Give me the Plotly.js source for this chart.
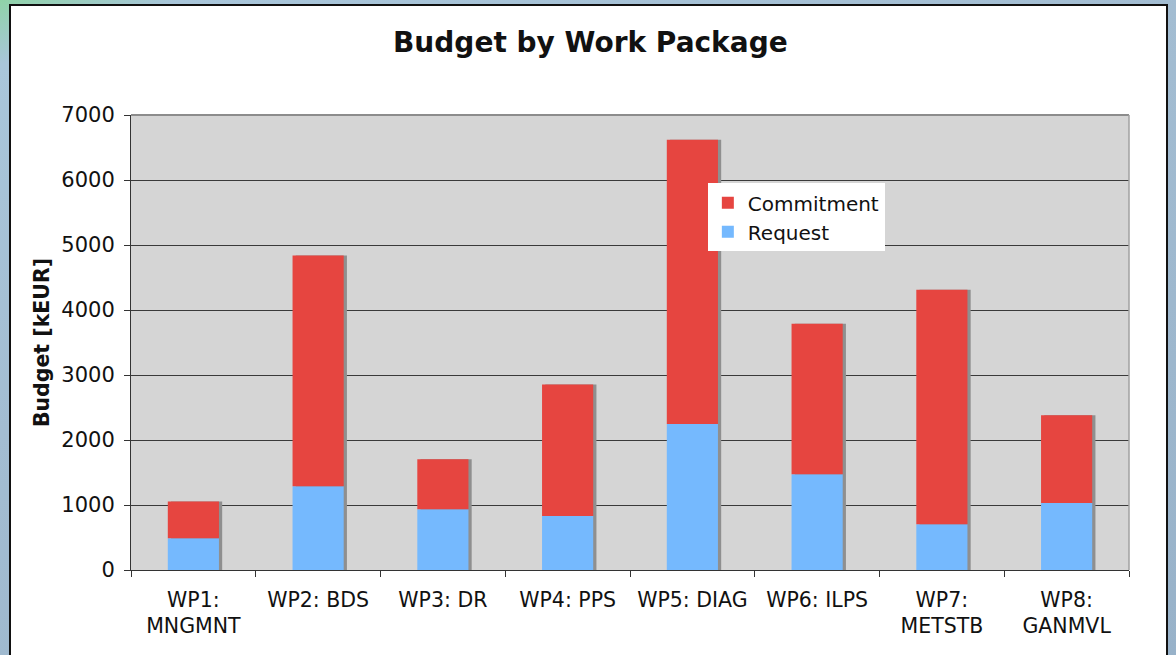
<!DOCTYPE html>
<html>
<head>
<meta charset="utf-8">
<script src="https://cdn.plot.ly/plotly-3.0.1.min.js"></script>
<style>
  html, body { margin: 0; padding: 0; width: 1176px; height: 655px; overflow: hidden; }
  body { background: linear-gradient(160deg, #8fd3a8 0%, #a9c6da 6%, #a3bdd2 40%, #98b2c9 100%); position: relative; }
  #frame { position: absolute; left: 9px; top: 4px; width: 1159px; height: 700px; background: #ffffff; border: 2px solid #111; box-sizing: border-box; }
  #chart { position: absolute; left: 0; top: 0; width: 1176px; height: 655px; }
</style>
</head>
<body>
<div id="frame"></div>
<div id="chart"></div>
<script>
// Data (kEUR)
const categories = ["WP1:<br>MNGMNT", "WP2: BDS", "WP3: DR", "WP4: PPS", "WP5: DIAG", "WP6: ILPS", "WP7:<br>METSTB", "WP8:<br>GANMVL"];
const request    = [490, 1290, 935, 830, 2245, 1475, 705, 1030];
const commitment = [565, 3550, 770, 2025, 4375, 2315, 3605, 1350];
const totals = request.map((r, i) => r + commitment[i]);

const FONT = "DejaVu Sans, Verdana, sans-serif";
const BAR_W = 0.41;

const shadow = {
  type: "bar", x: categories, y: totals,
  width: BAR_W, offset: -BAR_W / 2 + 0.026,
  marker: { color: "#8f8f8f", line: { width: 0 } },
  showlegend: false, hoverinfo: "skip"
};
const reqTrace = {
  type: "bar", name: "Request", x: categories, y: request,
  width: BAR_W, offset: -BAR_W / 2,
  marker: { color: "#75b9fe", line: { width: 0 } }
};
const comTrace = {
  type: "bar", name: "Commitment", x: categories, y: commitment, base: request,
  width: BAR_W, offset: -BAR_W / 2,
  marker: { color: "#e64540", line: { width: 0 } }
};

const layout = {
  width: 1176, height: 655,
  margin: { l: 131, r: 47, t: 115, b: 85 },
  paper_bgcolor: "rgba(0,0,0,0)",
  plot_bgcolor: "#d5d5d5",
  barmode: "overlay",
  font: { family: FONT, size: 21, color: "#111" },
  title: {
    text: "Budget by Work Package",
    font: { family: FONT, size: 28, weight: "bold", color: "#111" },
    x: 0.502, xref: "container", xanchor: "center",
    y: 1 - 42 / 655, yref: "container", yanchor: "middle"
  },
  xaxis: {
    type: "category",
    tickson: "boundaries",
    ticks: "outside", ticklen: 6, tickcolor: "#333", tickwidth: 1,
    showline: true, linecolor: "#333", linewidth: 1,
    showgrid: false,
    tickfont: { family: FONT, size: 20.5, color: "#111" },
    ticklabelstandoff: 11,
    tickangle: 0
  },
  yaxis: {
    range: [0, 7000], dtick: 1000, tick0: 0,
    ticks: "outside", ticklen: 6, tickcolor: "#333", tickwidth: 1,
    showline: true, linecolor: "#333", linewidth: 1,
    showgrid: true, gridcolor: "#3a3a3a", gridwidth: 1,
    zeroline: false,
    tickfont: { family: FONT, size: 21, color: "#111" },
    ticklabelstandoff: 5,
    title: { text: "Budget [kEUR]", font: { family: FONT, size: 20.5, weight: "bold", color: "#111" }, standoff: 6 }
  },
  legend: {
    x: 0.578, xanchor: "left", y: 0.85, yanchor: "top",
    bgcolor: "#ffffff", borderwidth: 0,
    traceorder: "reversed",
    font: { family: FONT, size: 20, color: "#111" }
  },
  shapes: [
    { type: "line", xref: "paper", yref: "paper", x0: 0, x1: 1, y0: 1, y1: 1, line: { color: "#8c8c8c", width: 2 }, layer: "above" },
    { type: "line", xref: "paper", yref: "paper", x0: 1, x1: 1, y0: 0, y1: 1, line: { color: "#a0a0a0", width: 1.5 }, layer: "above" }
  ]
};

Plotly.newPlot("chart", [shadow, reqTrace, comTrace], layout, { displayModeBar: false, staticPlot: true });
</script>
</body>
</html>
